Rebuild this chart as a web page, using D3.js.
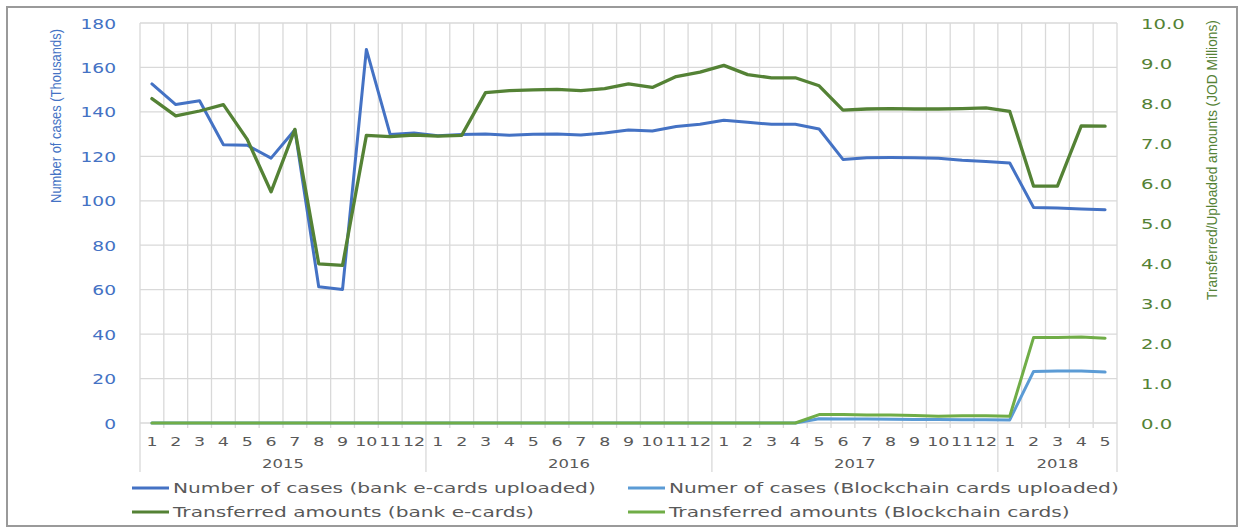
<!DOCTYPE html>
<html>
<head>
<meta charset="utf-8">
<script src="https://cdn.jsdelivr.net/npm/d3@7"></script>
<style>
  html, body { margin: 0; padding: 0; background: #ffffff; }
  svg { display: block; }
</style>
</head>
<body>
<svg id="chart" width="1242" height="529"></svg>
<script>
// Month labels along the axis, grouped by year
const monthLabels = [
  "1","2","3","4","5","6","7","8","9","10","11","12",
  "1","2","3","4","5","6","7","8","9","10","11","12",
  "1","2","3","4","5","6","7","8","9","10","11","12",
  "1","2","3","4","5"
];
const yearLabels = ["2015", "2016", "2017", "2018"];
const yearSpans = [12, 12, 12, 5];

// Number of cases, thousands (left axis)
const casesBank = [
  152.6, 143.3, 145.0, 125.2, 125.0, 119.2, 132.0, 61.3, 60.1, 168.1, 129.8, 130.5,
  129.3, 129.8, 130.0, 129.5, 129.9, 130.0, 129.6, 130.5, 131.9, 131.4, 133.4, 134.4,
  136.2, 135.3, 134.4, 134.4, 132.3, 118.6, 119.4, 119.5, 119.4, 119.1, 118.2, 117.7,
  117.0, 97.0, 96.8, 96.3, 96.0
];
const casesChain = [
  0, 0, 0, 0, 0, 0, 0, 0, 0, 0, 0, 0,
  0, 0, 0, 0, 0, 0, 0, 0, 0, 0, 0, 0,
  0, 0, 0, 0, 1.9, 1.8, 1.8, 1.7, 1.6, 1.6, 1.5, 1.5,
  1.4, 23.2, 23.4, 23.4, 22.9
];

// Transferred / uploaded amounts, JOD millions (right axis)
const amountBank = [
  8.11, 7.68, 7.80, 7.96, 7.09, 5.78, 7.34, 3.98, 3.94, 7.19, 7.16, 7.20,
  7.17, 7.19, 8.26, 8.31, 8.33, 8.34, 8.31, 8.36, 8.48, 8.39, 8.66, 8.77,
  8.94, 8.71, 8.63, 8.63, 8.43, 7.82, 7.85, 7.86, 7.85, 7.85, 7.86, 7.88,
  7.79, 5.92, 5.92, 7.43, 7.42
];
const amountChain = [
  0, 0, 0, 0, 0, 0, 0, 0, 0, 0, 0, 0,
  0, 0, 0, 0, 0, 0, 0, 0, 0, 0, 0, 0,
  0, 0, 0, 0, 0.21, 0.21, 0.20, 0.20, 0.19, 0.17, 0.18, 0.18,
  0.17, 2.14, 2.14, 2.15, 2.12
];

const leftTicks = d3.range(0, 181, 20);
const rightTicks = d3.range(0, 10.01, 1);

const seriesNames = [
  "Number of cases (bank e-cards uploaded)",
  "Numer of cases (Blockchain cards uploaded)",
  "Transferred amounts (bank e-cards)",
  "Transferred amounts (Blockchain cards)"
];
const colors = ["#4472C4", "#5B9BD5", "#548235", "#70AD47"];

const svg = d3.select("#chart");
const W = 1242, H = 529;
const plotLeft = 140, plotRight = 1117, plotTop = 23, plotBottom = 423;

const x = d3.scaleBand().domain(d3.range(monthLabels.length)).range([plotLeft, plotRight]).padding(0);
const cx = i => x(i) + x.bandwidth() / 2;
const yL = d3.scaleLinear().domain([0, 180]).range([plotBottom, plotTop]);
const yR = d3.scaleLinear().domain([0, 10]).range([plotBottom, plotTop]);

// stretch text horizontally with a fixed factor
function stretch(sel, f) {
  sel.each(function () {
    const L = this.getComputedTextLength();
    this.setAttribute("textLength", L * f);
    this.setAttribute("lengthAdjust", "spacingAndGlyphs");
  });
}

// background and frame
svg.append("rect").attr("x", 0).attr("y", 0).attr("width", W).attr("height", H).attr("fill", "#ffffff");
svg.append("rect").attr("x", 7).attr("y", 7).attr("width", 1230).attr("height", 519)
  .attr("fill", "#ffffff").attr("stroke", "#9a9a9a").attr("stroke-width", 2);

// horizontal gridlines
const grid = svg.append("g").attr("stroke", "#d9d9d9").attr("stroke-width", 1.3);
grid.selectAll("line.h").data(leftTicks).join("line")
  .attr("x1", plotLeft).attr("x2", plotRight)
  .attr("y1", d => yL(d)).attr("y2", d => yL(d));

// vertical gridlines at month boundaries; year boundaries run down through the labels
const yearBounds = new Set([0]);
{ let acc = 0; yearSpans.forEach(s => { acc += s; yearBounds.add(acc); }); }
const bounds = d3.range(monthLabels.length + 1);
grid.selectAll("line.v").data(bounds).join("line")
  .attr("x1", i => i < monthLabels.length ? x(i) : plotRight)
  .attr("x2", i => i < monthLabels.length ? x(i) : plotRight)
  .attr("y1", plotTop)
  .attr("y2", i => yearBounds.has(i) ? 472 : 428);

// left axis
const axL = svg.append("g").attr("transform", `translate(${plotLeft},0)`)
  .call(d3.axisLeft(yL).tickValues(leftTicks).tickSize(0).tickPadding(24));
axL.select(".domain").remove();
axL.selectAll("text").attr("fill", "#4472C4").attr("font-family", "DejaVu Sans")
  .attr("font-size", 14).attr("dy", "0.36em");
stretch(axL.selectAll("text"), 1.33);

// right axis
const axR = svg.append("g").attr("transform", `translate(${plotRight},0)`)
  .call(d3.axisRight(yR).tickValues(rightTicks).tickFormat(d3.format(".1f")).tickSize(0).tickPadding(24));
axR.select(".domain").remove();
axR.selectAll("text").attr("fill", "#548235").attr("font-family", "DejaVu Sans")
  .attr("font-size", 14).attr("dy", "0.36em");
stretch(axR.selectAll("text"), 1.4);

// bottom axis: month numbers
const axB = svg.append("g").attr("transform", `translate(0,${plotBottom})`)
  .call(d3.axisBottom(x).tickFormat(i => monthLabels[i]).tickSize(0).tickPadding(0));
axB.select(".domain").remove();
axB.selectAll("text").attr("fill", "#595959").attr("font-family", "DejaVu Sans")
  .attr("font-size", 12).attr("dy", null).attr("y", 22.5);
stretch(axB.selectAll("text"), 1.45);

// year labels centered on their month groups
let start = 0;
const yearPos = yearSpans.map(s => { const p = { a: start, b: start + s }; start += s; return p; });
const yg = svg.append("g");
yg.selectAll("text").data(yearLabels).join("text")
  .attr("x", (d, i) => (x(yearPos[i].a) + (yearPos[i].b < monthLabels.length ? x(yearPos[i].b) : plotRight)) / 2)
  .attr("y", 467.5)
  .attr("text-anchor", "middle")
  .attr("fill", "#595959").attr("font-family", "DejaVu Sans").attr("font-size", 12)
  .text(d => d);
stretch(yg.selectAll("text"), 1.37);

// vertical axis titles, condensed to a set length along the axis
function axisTitle(text, cxPos, cyPos, len, color) {
  const t = svg.append("text")
    .attr("text-anchor", "middle")
    .attr("fill", color).attr("font-family", "Liberation Sans Narrow, Liberation Sans")
    .attr("font-size", 15.5)
    .text(text);
  const L = t.node().getComputedTextLength();
  t.attr("transform", `translate(${cxPos},${cyPos}) rotate(-90) scale(${len / L},1)`);
  return t;
}
axisTitle("Number of cases (Thousands)", 61, 116, 174, "#4472C4");
axisTitle("Transferred/Uploaded amounts (JOD Millions)", 1217, 160, 280, "#548235");

// series lines
const lineL = d3.line().x((d, i) => cx(i)).y(d => yL(d));
const lineR = d3.line().x((d, i) => cx(i)).y(d => yR(d));
const series = [
  { data: casesBank, line: lineL, color: colors[0], w: 3 },
  { data: casesChain, line: lineL, color: colors[1], w: 3 },
  { data: amountBank, line: lineR, color: colors[2], w: 3.3 },
  { data: amountChain, line: lineR, color: colors[3], w: 3 }
];
svg.append("g").selectAll("path").data(series).join("path")
  .attr("d", s => s.line(s.data))
  .attr("fill", "none")
  .attr("stroke", s => s.color)
  .attr("stroke-width", s => s.w)
  .attr("stroke-linejoin", "round")
  .attr("stroke-linecap", "round");

// legend, two columns by two rows
const legendPos = [
  { x: 132, y: 488 }, { x: 628, y: 488 },
  { x: 132, y: 512 }, { x: 628, y: 512 }
];
const lg = svg.append("g").selectAll("g").data(seriesNames).join("g")
  .attr("transform", (d, i) => `translate(${legendPos[i].x},${legendPos[i].y})`);
lg.append("line").attr("x1", 0).attr("x2", 37).attr("y1", 0).attr("y2", 0)
  .attr("stroke", (d, i) => colors[i]).attr("stroke-width", 3);
const lt = lg.append("text").attr("x", 41).attr("y", 0).attr("dy", "0.36em")
  .attr("fill", "#595959").attr("font-family", "DejaVu Sans").attr("font-size", 14.5)
  .text(d => d);
stretch(lt, 1.39);
</script>
</body>
</html>
